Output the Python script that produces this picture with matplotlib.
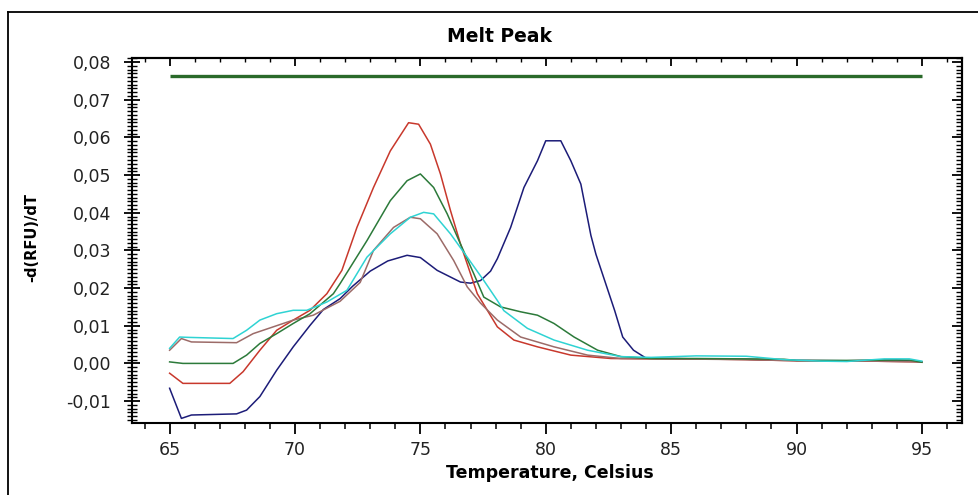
import matplotlib
matplotlib.use("Agg")
import matplotlib.pyplot as plt
from matplotlib.lines import Line2D
from matplotlib.ticker import MultipleLocator, FuncFormatter

# melt peak curves
navy_x = [65.0, 65.47, 65.87, 67.67, 68.07, 68.6, 69.27, 69.93, 70.6, 71.13, 71.8, 72.3, 73.0,
          73.7, 74.47, 75.0, 75.67, 76.6, 77.0, 77.4, 77.8, 78.07, 78.6, 79.13, 79.67, 80.0,
          80.6, 81.0, 81.4, 81.8, 82.0, 82.4, 82.75, 83.07, 83.5, 84.0, 86.0, 88.0, 90.0,
          92.0, 94.0, 95.0]
navy_y = [-0.0066, -0.0146, -0.0137, -0.0134, -0.0124, -0.0088, -0.0018, 0.0044, 0.0101,
          0.0143, 0.0172, 0.0205, 0.0245, 0.0272, 0.0287, 0.0281, 0.0247, 0.0216, 0.0213,
          0.0220, 0.0245, 0.0278, 0.0361, 0.0467, 0.0538, 0.0591, 0.0591, 0.0538, 0.0476,
          0.0340, 0.0290, 0.0210, 0.0140, 0.0070, 0.0035, 0.0014, 0.0012, 0.0011, 0.0008,
          0.0007, 0.0009, 0.0004]

red_x = [65.0, 65.53, 67.4, 67.93, 68.6, 69.27, 69.93, 70.6, 71.27, 71.87, 72.47, 73.13,
         73.8, 74.53, 74.93, 75.4, 75.8, 76.2, 76.6, 77.0, 77.27, 77.67, 78.07, 78.73, 79.67,
         81.0, 82.6, 84.2, 86.0, 88.0, 90.0, 92.0, 95.0]
red_y = [-0.0026, -0.0053, -0.0053, -0.0022, 0.0035, 0.0088, 0.0115, 0.0141, 0.0185, 0.0247,
         0.0361, 0.0467, 0.0564, 0.0639, 0.0635, 0.0582, 0.0503, 0.0406, 0.0317, 0.0238,
         0.0185, 0.0141, 0.0097, 0.0062, 0.0044, 0.0022, 0.0013, 0.0012, 0.0012, 0.0010,
         0.0007, 0.0007, 0.0004]

brown_x = [65.0, 65.47, 65.87, 67.67, 68.33, 69.13, 69.93, 70.73, 71.8, 72.6, 73.13, 73.93,
           74.6, 75.0, 75.67, 76.33, 76.87, 77.4, 78.07, 79.0, 80.33, 81.67, 83.0, 85.0, 88.0,
           90.0, 92.0, 95.0]
brown_y = [0.0035, 0.0066, 0.0057, 0.0055, 0.0079, 0.0097, 0.0115, 0.0128, 0.0165, 0.0215,
           0.0300, 0.0361, 0.0388, 0.0384, 0.0344, 0.0273, 0.0203, 0.0160, 0.0115, 0.0070,
           0.0044, 0.0022, 0.0013, 0.0012, 0.0010, 0.0007, 0.0007, 0.0004]

green_x = [65.0, 65.53, 67.53, 68.07, 68.6, 69.27, 69.93, 70.6, 71.53, 71.8, 72.87, 73.8,
           74.47, 75.0, 75.53, 76.07, 76.6, 77.13, 77.53, 78.2, 79.0, 79.67, 80.33, 81.13,
           82.07, 83.0, 84.2, 86.0, 88.0, 89.5, 90.0, 92.0, 94.5, 95.0]
green_y = [0.0004, 0.0, 0.0, 0.0022, 0.0053, 0.0079, 0.0106, 0.0132, 0.0185, 0.0212, 0.0326,
           0.0432, 0.0485, 0.0503, 0.0467, 0.0397, 0.0317, 0.0238, 0.0176, 0.0150, 0.0137,
           0.0128, 0.0106, 0.0070, 0.0035, 0.0018, 0.0013, 0.0013, 0.0012, 0.0011, 0.0008,
           0.0008, 0.0009, 0.0003]

cyan_x = [65.0, 65.4, 65.8, 67.53, 68.07, 68.6, 69.27, 69.93, 70.47, 71.27, 72.07, 72.87,
          73.8, 74.6, 75.13, 75.53, 76.2, 76.87, 77.53, 78.07, 78.33, 79.27, 80.33, 81.67,
          83.0, 84.2, 86.0, 88.0, 89.5, 91.0, 92.0, 93.5, 94.5, 95.0]
cyan_y = [0.0040, 0.0070, 0.0069, 0.0066, 0.0088, 0.0115, 0.0132, 0.0141, 0.0141, 0.0163,
          0.0194, 0.0282, 0.0344, 0.0388, 0.0401, 0.0397, 0.0344, 0.0282, 0.0220, 0.0167,
          0.0140, 0.0093, 0.0062, 0.0035, 0.0018, 0.0016, 0.0020, 0.0019, 0.0010, 0.0006,
          0.0005, 0.0012, 0.0012, 0.0006]

threshold_x = [65.0, 95.0]
threshold_y = [0.0763, 0.0763]

series = [
    (navy_x, navy_y, "#1c1c78"),
    (red_x, red_y, "#c8382c"),
    (brown_x, brown_y, "#9c6b68"),
    (green_x, green_y, "#2c7a3a"),
    (cyan_x, cyan_y, "#2fd3d3"),
]

W, H = 979, 495
fig = plt.figure(figsize=(W / 100, H / 100), dpi=100)
ax = fig.add_axes([132 / W, 1 - 423.3 / H, 830 / W, 365 / H])

ax.plot(threshold_x, threshold_y, color="#2a6a2a", lw=2.4, solid_capstyle="butt")
for xs, ys, c in series:
    ax.plot(xs, ys, color=c, lw=1.1)

ax.set_xlim(63.5, 96.6)
ax.set_ylim(-0.0159, 0.081)

for sp in ax.spines.values():
    sp.set_linewidth(1.5)

ax.xaxis.set_major_locator(MultipleLocator(5))
ax.xaxis.set_minor_locator(MultipleLocator(1))
ax.yaxis.set_major_locator(MultipleLocator(0.01))
ax.yaxis.set_minor_locator(MultipleLocator(0.001))
ax.yaxis.set_major_formatter(FuncFormatter(lambda v, p: f"{v:.2f}".replace(".", ",").replace("-0,00", "0,00")))
ax.set_yticks([i / 100 for i in range(-1, 9)])

ax.tick_params(axis="x", which="major", direction="out", length=8, width=1.3, pad=5,
               labelsize=12.5, labelcolor="#222222")
ax.tick_params(axis="x", which="minor", direction="out", length=4.5, width=1.1)
ax.tick_params(axis="y", which="major", direction="inout", length=12, width=1.3, pad=9,
               labelsize=12.5, labelcolor="#222222")
ax.tick_params(axis="y", which="minor", direction="inout", length=7, width=1.0)

# top and right ticks point inward, without labels
top = ax.secondary_xaxis("top")
top.xaxis.set_major_locator(MultipleLocator(5))
top.xaxis.set_minor_locator(MultipleLocator(1))
top.tick_params(which="major", direction="in", length=5.5, width=1.3, labeltop=False)
top.tick_params(which="minor", direction="in", length=3, width=1.0)
top.spines["top"].set_linewidth(1.5)

right = ax.secondary_yaxis("right")
right.yaxis.set_major_locator(MultipleLocator(0.01))
right.yaxis.set_minor_locator(MultipleLocator(0.001))
right.tick_params(which="major", direction="in", length=7, width=1.3, labelright=False)
right.tick_params(which="minor", direction="in", length=4, width=1.0)
right.spines["right"].set_linewidth(1.5)

fig.text(500 / W, 1 - 36.7 / H, "Melt Peak", ha="center", va="center",
         fontsize=13.5, fontweight="bold")
fig.text(550 / W, 1 - 473 / H, "Temperature, Celsius", ha="center", va="center",
         fontsize=12.5, fontweight="bold")
fig.text(32 / W, 1 - 237 / H, "-d(RFU)/dT", ha="center", va="center", rotation=90,
         fontsize=10.5, fontweight="bold")

# outer frame, only left and top edges are inside the picture
fig.add_artist(Line2D([8 / W, 8 / W], [0, 1 - 12 / H], transform=fig.transFigure,
                      color="black", lw=1.3))
fig.add_artist(Line2D([8 / W, 1], [1 - 12 / H, 1 - 12 / H], transform=fig.transFigure,
                      color="black", lw=1.3))

fig.savefig("out.png", dpi=100, facecolor="white")
